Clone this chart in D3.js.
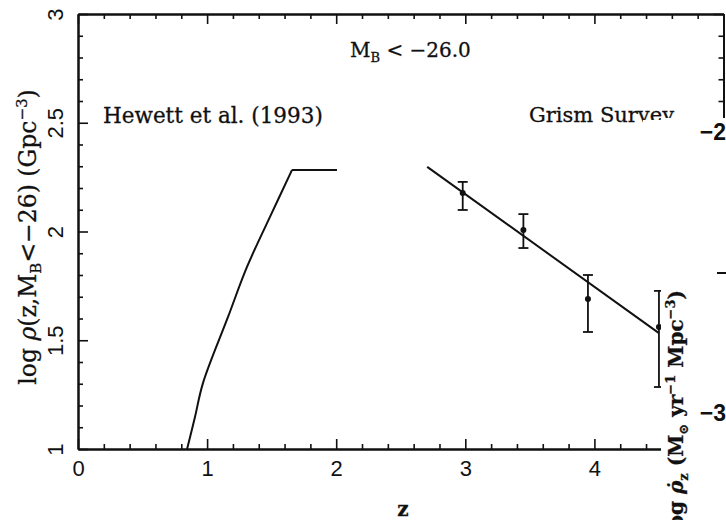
<!DOCTYPE html>
<html>
<head>
<meta charset="utf-8">
<script src="https://cdn.jsdelivr.net/npm/d3@7"></script>
<style>
  body { margin: 0; background: #fff; }
  svg { display: block; }
  .axis path, .axis line { stroke: #111; }
  .serif { font-family: "DejaVu Serif", serif; fill: #111; stroke: #111; stroke-width: 0.3px; }
  .sans { font-family: "Liberation Sans", Arial, sans-serif; fill: #111; }
</style>
</head>
<body>
<svg id="chart" width="726" height="520"></svg>
<script>
// Hewett et al. (1993) model curve
var hewettZ = [0.845, 0.906, 0.968, 1.162, 1.309, 1.487, 1.658, 2.006];
var hewettLogRho = [1.0, 1.147, 1.303, 1.607, 1.837, 2.067, 2.283, 2.283];

// grism survey fit line
var fitZ = [2.705, 4.5];
var fitLogRho = [2.297, 1.533];

// grism survey points with error bars
var grismZ = [2.98, 3.45, 3.95, 4.50];
var grismLogRho = [2.177, 2.007, 1.69, 1.561];
var grismLow = [2.099, 1.924, 1.538, 1.285];
var grismHigh = [2.228, 2.08, 1.80, 1.727];

var xMajor = [0, 1, 2, 3, 4, 5];
var xLabels = ['0', '1', '2', '3', '4', ''];
var yMajor = [1, 1.5, 2, 2.5, 3];
var yLabels = ['1', '1.5', '2', '2.5', '3'];

// the overlapping panel's right axis labels
var otherTicks = ['\u22122', '\u22123'];

(function (d3) {
  'use strict';
  var svg = d3.select('#chart');
  var left = 78, right = 723.5, top = 14, bottom = 449;

  var x = d3.scaleLinear().domain([0, 5]).range([left, right]);
  var y = d3.scaleLinear().domain([1, 3]).range([bottom, top]);

  var minorX = d3.range(0, 5.001, 0.2).filter(function (v) { return Math.abs(v - Math.round(v)) > 1e-6; });
  var minorY = d3.range(1, 3.001, 0.1).filter(function (v) { return Math.abs(v * 2 - Math.round(v * 2)) > 1e-6; });

  var styleAxis = function (g) {
    g.attr('class', 'axis');
    g.select('.domain').attr('stroke-width', 2);
    g.selectAll('.tick line').attr('stroke-width', 1.6);
  };

  var fmt = function (labels, values) {
    return function (d) { return labels[values.indexOf(d)]; };
  };

  // bottom axis
  svg.append('g').attr('transform', 'translate(0,' + bottom + ')')
    .call(d3.axisBottom(x).tickValues(minorX).tickFormat('').tickSizeInner(-5).tickSizeOuter(0)).call(styleAxis);
  var bAx = svg.append('g').attr('transform', 'translate(0,' + bottom + ')')
    .call(d3.axisBottom(x).tickValues(xMajor).tickFormat(fmt(xLabels, xMajor)).tickSizeInner(-10).tickSizeOuter(0)).call(styleAxis);
  bAx.selectAll('text').attr('y', 27).attr('dy', null)
    .style('font-size', '22px').style('font-family', '"Liberation Sans", Arial, sans-serif').style('fill', '#111');

  // top axis
  svg.append('g').attr('transform', 'translate(0,' + top + ')')
    .call(d3.axisTop(x).tickValues(minorX).tickFormat('').tickSizeInner(-5).tickSizeOuter(0)).call(styleAxis);
  svg.append('g').attr('transform', 'translate(0,' + top + ')')
    .call(d3.axisTop(x).tickValues(xMajor).tickFormat('').tickSizeInner(-10).tickSizeOuter(0)).call(styleAxis);

  // left axis
  svg.append('g').attr('transform', 'translate(' + left + ',0)')
    .call(d3.axisLeft(y).tickValues(minorY).tickFormat('').tickSizeInner(-5).tickSizeOuter(0)).call(styleAxis);
  var lAx = svg.append('g').attr('transform', 'translate(' + left + ',0)')
    .call(d3.axisLeft(y).tickValues(yMajor).tickFormat(fmt(yLabels, yMajor)).tickSizeInner(-10).tickSizeOuter(0)).call(styleAxis);
  lAx.selectAll('text')
    .attr('x', 0).attr('dy', null)
    .attr('text-anchor', 'middle')
    .attr('transform', 'translate(-15,0) rotate(-90)')
    .style('font-size', '22px').style('font-family', '"Liberation Sans", Arial, sans-serif').style('fill', '#111');

  // right axis
  svg.append('g').attr('transform', 'translate(' + right + ',0)')
    .call(d3.axisRight(y).tickValues(minorY).tickFormat('').tickSizeInner(-5).tickSizeOuter(0)).call(styleAxis);
  svg.append('g').attr('transform', 'translate(' + right + ',0)')
    .call(d3.axisRight(y).tickValues(yMajor).tickFormat('').tickSizeInner(-10).tickSizeOuter(0)).call(styleAxis);

  // Hewett curve: smooth rise, then flat plateau
  var hewett = d3.zip(hewettZ, hewettLogRho);
  var smooth = d3.line().curve(d3.curveCatmullRom.alpha(0.5))
    .x(function (d) { return x(d[0]); }).y(function (d) { return y(d[1]); });
  var line = d3.line().x(function (d) { return x(d[0]); }).y(function (d) { return y(d[1]); });
  svg.append('path').datum(hewett.slice(0, 7))
    .attr('d', smooth).attr('fill', 'none').attr('stroke', '#111').attr('stroke-width', 2);
  svg.append('path').datum(hewett.slice(6))
    .attr('d', line).attr('fill', 'none').attr('stroke', '#111').attr('stroke-width', 2);

  // grism fit
  svg.append('path').datum(d3.zip(fitZ, fitLogRho))
    .attr('d', line).attr('fill', 'none').attr('stroke', '#111').attr('stroke-width', 2);

  // error bars
  var pts = d3.range(grismZ.length);
  var eb = svg.append('g').selectAll('g').data(pts).enter().append('g');
  eb.append('line')
    .attr('x1', function (i) { return x(grismZ[i]); }).attr('x2', function (i) { return x(grismZ[i]); })
    .attr('y1', function (i) { return y(grismLow[i]); }).attr('y2', function (i) { return y(grismHigh[i]); })
    .attr('stroke', '#111').attr('stroke-width', 1.8);
  ['low', 'high'].forEach(function (k) {
    eb.append('line')
      .attr('x1', function (i) { return x(grismZ[i]) - 5; }).attr('x2', function (i) { return x(grismZ[i]) + 5; })
      .attr('y1', function (i) { return y(k === 'low' ? grismLow[i] : grismHigh[i]); })
      .attr('y2', function (i) { return y(k === 'low' ? grismLow[i] : grismHigh[i]); })
      .attr('stroke', '#111').attr('stroke-width', 1.8);
  });
  eb.append('circle')
    .attr('cx', function (i) { return x(grismZ[i]); })
    .attr('cy', function (i) { return y(grismLogRho[i]); })
    .attr('r', 3).attr('fill', '#111');

  // annotations
  var mb = svg.append('text').attr('class', 'serif').attr('x', 350).attr('y', 57).style('font-size', '20px');
  mb.append('tspan').text('M');
  mb.append('tspan').attr('dy', 5).style('font-size', '13px').text('B');
  mb.append('tspan').attr('dy', -5).text(' < \u221226.0');

  svg.append('text').attr('class', 'serif').attr('x', 103).attr('y', 123).style('font-size', '21.5px').text('Hewett et al. (1993)');
  svg.append('text').attr('class', 'serif').attr('x', 529).attr('y', 122).style('font-size', '21px').text('Grism Survey');

  // y axis title
  var yt = svg.append('text').attr('class', 'serif')
    .attr('transform', 'translate(36,237) rotate(-90)').attr('text-anchor', 'middle').style('font-size', '23.5px');
  yt.append('tspan').text('log ');
  yt.append('tspan').style('font-style', 'italic').text('\u03c1');
  yt.append('tspan').text('(z,M');
  yt.append('tspan').attr('dy', 5).style('font-size', '15px').text('B');
  yt.append('tspan').attr('dy', -5).text('<\u221226) (Gpc');
  yt.append('tspan').attr('dy', -9).style('font-size', '15px').text('\u22123');
  yt.append('tspan').attr('dy', 9).text(')');

  // x axis title
  svg.append('text').attr('class', 'serif').attr('x', 403).attr('y', 516)
    .attr('text-anchor', 'middle').style('font-size', '20px').style('font-weight', 'bold').text('z');

  // overlapping panel on the right
  svg.append('rect').attr('x', 643).attr('y', 120).attr('width', 20).attr('height', 6).attr('fill', '#fff');
  svg.append('rect').attr('x', 661).attr('y', 118).attr('width', 65).attr('height', 402).attr('fill', '#fff');

  svg.selectAll('.other-tick').data(otherTicks).enter().append('text')
    .attr('class', 'sans other-tick')
    .attr('x', 726).attr('y', function (d, i) { return i === 0 ? 140 : 421; })
    .attr('text-anchor', 'end').style('font-size', '23px').style('font-weight', 'bold')
    .text(function (d) { return d; });
  svg.append('line').attr('x1', 717).attr('x2', 726).attr('y1', 273).attr('y2', 273)
    .attr('stroke', '#111').attr('stroke-width', 2);

  var rt = svg.append('text').attr('class', 'serif')
    .attr('transform', 'translate(683,290) rotate(-90)').attr('text-anchor', 'end')
    .style('font-size', '20px').style('font-weight', 'bold');
  rt.append('tspan').text('log ');
  rt.append('tspan').style('font-style', 'italic').text('\u03c1\u0307');
  rt.append('tspan').attr('dy', 5).style('font-size', '13px').text('z');
  rt.append('tspan').attr('dy', -5).text(' (M');
  rt.append('tspan').attr('dy', 5).style('font-size', '13px').text('\u2299');
  rt.append('tspan').attr('dy', -5).text(' yr');
  rt.append('tspan').attr('dy', -8).style('font-size', '13px').text('\u22121');
  rt.append('tspan').attr('dy', 8).text(' Mpc');
  rt.append('tspan').attr('dy', -8).style('font-size', '13px').text('\u22123');
  rt.append('tspan').attr('dy', 8).text(')');
})(d3);
</script>
</body>
</html>
